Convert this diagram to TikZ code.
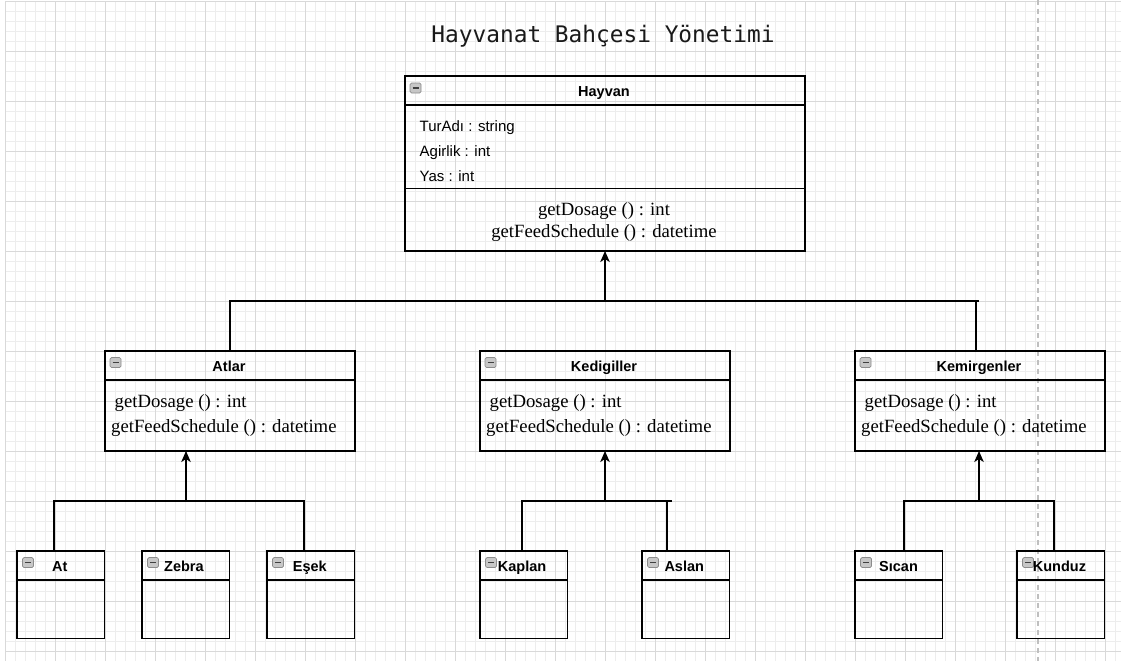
\documentclass[tikz,border=0pt]{standalone}
\usepackage{fontspec}
\setmainfont{Liberation Serif}
\setsansfont{Liberation Sans}
\newfontfamily\titlefont{DejaVu Sans Mono}
\usetikzlibrary{arrows.meta}
\begin{document}
\begin{tikzpicture}[x=1pt,y=-1pt,
  minorline/.style={draw=black!7, line width=0.8pt},
  majorline/.style={draw=black!15, line width=0.8pt},
  box/.style={draw=black, line width=1.3pt, anchor=north west, inner sep=0pt, outer sep=0pt},
  sepline/.style={draw=black, line width=1.3pt},
  hdr/.style={font=\sffamily\bfseries\fontsize{14.5}{17}\selectfont, inner sep=0pt, anchor=base},
  hdrl/.style={font=\sffamily\bfseries\fontsize{14.5}{17}\selectfont, inner sep=0pt, anchor=base west},
  attr/.style={font=\sffamily\fontsize{15}{18}\selectfont, inner sep=0pt, anchor=base west},
  meth/.style={font=\fontsize{18.7}{22}\selectfont, inner sep=0pt, anchor=base},
  methl/.style={font=\fontsize{18.7}{22}\selectfont, inner sep=0pt, anchor=base west},
  conn/.style={draw=black, line width=1.3pt},
  arr/.style={conn, -{Stealth[length=11pt,width=9.5pt,inset=3pt]}},
  mini/.pic={
    \draw[draw=black!45, fill=black!22, line width=0.7pt, rounded corners=1.5pt] (0,0) rectangle (11,10);
    \draw[black!75, line width=1.6pt] (2.5,5) -- (8.5,5);
  }]
\useasboundingbox (0,0) rectangle (1121,661);
\fill[white] (0,0) rectangle (1121,661);
% grid
\foreach \i in {0,...,111} {\path[minorline] ({5+10*\i},1.5) -- ({5+10*\i},661);}
\foreach \j in {0,...,65} {\path[minorline] (5,{1.5+10*\j}) -- (1121,{1.5+10*\j});}
\foreach \i in {0,...,23} {\path[majorline] ({5+50*\i},1.5) -- ({5+50*\i},661);}
\foreach \j in {0,...,13} {\path[majorline] (5,{1.5+50*\j}) -- (1121,{1.5+50*\j});}
% page break
\draw[black!25, line width=1.3pt, dash pattern=on 5pt off 4pt] (1038,0) -- (1038,661);

% title
\node[font=\titlefont\fontsize{22.8}{26}\selectfont, text=black!90, inner sep=0pt, anchor=base] (title) at (603,43) {Hayvanat Bahçesi Yönetimi};

% Hayvan
\node[box, minimum width=400pt, minimum height=175pt] (hayvan) at (405,76) {};
\draw[sepline] (405,105) -- (805,105);
\draw[sepline] (405,188.5) -- (805,188.5);
\pic at (410,83) {mini};
\node[hdr] (hayvanT) at (604,96) {Hayvan};
\node[attr] (a1) at (419.5,131) {TurAdı : string};
\node[attr] (a2) at (419.5,156) {Agirlik : int};
\node[attr] (a3) at (419.5,181) {Yas : int};
\node[meth] (m1) at (604,215) {getDosage () : int};
\node[meth] (m2) at (604,237) {getFeedSchedule () : datetime};

% second level
\foreach \n/\t/\dx in {atlar/Atlar/0, kedi/Kedigiller/375, kemir/Kemirgenler/750} {
  \node[box, minimum width=250pt, minimum height=100pt] (\n) at ({105+\dx},351) {};
  \draw[sepline] ({105+\dx},380) -- ({355+\dx},380);
  \pic at ({110+\dx},357.5) {mini};
  \node[hdr] (\n T) at ({229+\dx},371) {\t};
  \node[methl] (\n M1) at ({114.5+\dx},407) {getDosage () : int};
  \node[methl] (\n M2) at ({111+\dx},432) {getFeedSchedule () : datetime};
}

% third level
\foreach \n/\t/\x/\tx in {at/At/17/52, zebra/Zebra/142/164, esek/Eşek/267/292.7,
    kaplan/Kaplan/480/497.7, aslan/Aslan/642/664.3,
    sican/Sıcan/855/879, kunduz/Kunduz/1017/1032.7} {
  \node[box, minimum width=87.5pt, minimum height=87.5pt] (\n) at (\x,551) {};
  \draw[sepline] (\x,580) -- ({\x+87.5},580);
  \pic at ({\x+5.5},557.5) {mini};
  \node[hdrl] (\n T) at (\tx,571) {\t};
}

% connectors level 1
\coordinate (b1L) at (230,301);
\coordinate (b1M) at (605,301);
\coordinate (b1R) at (979,301);
\coordinate (b1K) at (976,301);
\draw[conn] (atlar.north) -- (b1L) -- (b1R);
\draw[conn] (b1K) -- (b1K |- kemir.north);
\draw[arr] (b1M) -- (hayvan.south);

% connectors Atlar
\coordinate (b2L) at (54,501);
\coordinate (b2M) at (186,501);
\coordinate (b2R) at (304,501);
\draw[conn] (b2L |- at.north) -- (b2L) -- (b2R) -- (b2R |- esek.north);
\draw[arr] (b2M) -- (b2M |- atlar.south);

% connectors Kedigiller
\coordinate (b3L) at (522,501);
\coordinate (b3M) at (605,501);
\coordinate (b3A) at (667,501);
\coordinate (b3R) at (672,501);
\draw[conn] (b3L |- kaplan.north) -- (b3L) -- (b3R);
\draw[conn] (b3A) -- (b3A |- aslan.north);
\draw[arr] (b3M) -- (b3M |- kedi.south);

% connectors Kemirgenler
\coordinate (b4L) at (904,501);
\coordinate (b4M) at (979,501);
\coordinate (b4R) at (1054,501);
\draw[conn] (b4L |- sican.north) -- (b4L) -- (b4R) -- (b4R |- kunduz.north);
\draw[arr] (b4M) -- (b4M |- kemir.south);
\end{tikzpicture}
\end{document}
